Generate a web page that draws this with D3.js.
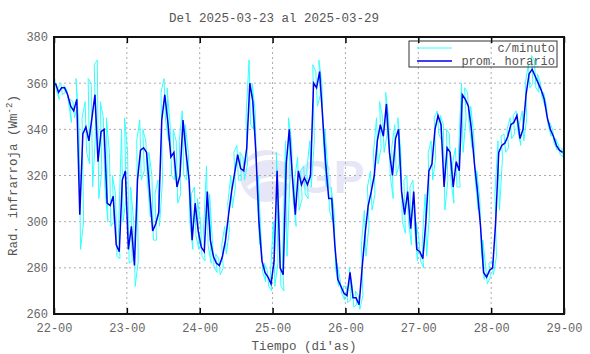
<!DOCTYPE html>
<html>
<head>
  <script src="https://d3js.org/d3.v7.min.js"></script>
  <style>
    body { margin: 0; background: #fff; }
    text { font-family: "Liberation Mono", "DejaVu Sans Mono", monospace; fill: #555; }
  </style>
</head>
<body>
  <div id="chart"></div>
  <script>
    const titulo = "Del 2025-03-23 al 2025-03-29";
    const diaInicio = 22, diaFin = 29;
    const etiquetasX = ["22-00", "23-00", "24-00", "25-00", "26-00", "27-00", "28-00", "29-00"];
    const ticksY = [260, 280, 300, 320, 340, 360, 380];

    // promedio horario (una valor por hora, 7 dias)
    const promHorario = [
      360, 356, 358, 358, 355, 350, 348, 353, 303, 338, 341, 335, 345, 355, 326, 339, 340, 308, 307, 311, 290, 287, 318, 322,
      288, 298, 281, 318, 331, 332, 330, 313, 296, 299, 304, 344, 355, 343, 328, 330, 315, 320, 344, 330, 318, 292, 308, 296,
      289, 287, 313, 292, 285, 282, 281, 285, 292, 303, 313, 321, 329, 323, 322, 332, 360, 352, 330, 300, 283, 278, 276, 273,
      283, 322, 280, 277, 325, 340, 320, 303, 322, 316, 319, 316, 320, 360, 358, 365, 345, 325, 310, 310, 290, 275, 272, 269,
      268, 278, 267, 267, 264, 280, 295, 307, 313, 320, 335, 342, 337, 351, 330, 320, 336, 340, 313, 303, 313, 297, 313, 288,
      287, 284, 300, 322, 325, 340, 346, 342, 315, 332, 330, 315, 326, 322, 355, 353, 350, 340, 325, 313, 298, 278, 276, 279,
      280, 300, 330, 333, 334, 337, 342, 343, 346, 336, 340, 355, 364, 366, 363, 360, 357, 353, 345, 340, 337, 333, 331, 330
    ];
    // extremos de los datos por minuto en cada hora
    const minutoMax = [
      362, 358, 360, 359, 357, 353, 352, 362, 340, 345, 352, 362, 360, 368, 370, 352, 345, 345, 330, 320, 312, 295, 340, 345,
      330, 315, 300, 335, 344, 340, 335, 330, 320, 312, 318, 356, 362, 358, 342, 340, 335, 335, 348, 342, 330, 312, 315, 310,
      300, 296, 324, 312, 290, 286, 284, 290, 298, 308, 320, 330, 333, 330, 328, 345, 370, 360, 348, 320, 292, 282, 279, 276,
      300, 330, 300, 282, 335, 345, 335, 318, 328, 322, 324, 322, 335, 368, 365, 370, 360, 340, 322, 315, 305, 282, 275, 272,
      272, 280, 272, 270, 268, 290, 305, 315, 322, 330, 345, 352, 345, 356, 345, 332, 342, 345, 330, 318, 320, 315, 318, 300,
      292, 290, 312, 330, 335, 345, 348, 346, 342, 340, 338, 325, 332, 330, 360, 358, 356, 350, 338, 322, 310, 292, 280, 282,
      283, 312, 335, 337, 338, 340, 345, 346, 348, 342, 348, 360, 368, 372, 370, 364, 360, 356, 350, 343, 340, 336, 333, 332
    ];
    const minutoMin = [
      357, 353, 355, 356, 352, 343, 345, 350, 288, 300, 330, 325, 315, 340, 310, 322, 315, 300, 298, 300, 285, 284, 300, 310,
      282, 283, 272, 283, 318, 322, 318, 302, 292, 292, 298, 318, 344, 335, 320, 318, 308, 312, 320, 318, 300, 288, 294, 288,
      285, 283, 290, 282, 280, 278, 277, 280, 286, 296, 306, 315, 318, 318, 318, 325, 342, 340, 320, 290, 278, 274, 272, 270,
      272, 282, 272, 270, 285, 320, 310, 298, 305, 310, 312, 310, 315, 335, 350, 355, 335, 315, 305, 300, 280, 272, 269, 266,
      265, 266, 263, 264, 262, 268, 285, 298, 305, 312, 325, 332, 330, 338, 320, 310, 320, 325, 300, 295, 300, 290, 298, 283,
      283, 280, 285, 305, 318, 328, 338, 335, 305, 318, 318, 308, 315, 315, 330, 345, 342, 332, 318, 305, 288, 275, 273, 276,
      277, 285, 305, 328, 330, 332, 336, 338, 340, 333, 335, 345, 358, 360, 358, 356, 354, 350, 342, 337, 334, 331, 329, 328
    ];

    const W = 590, H = 354;
    const m = { top: 37, right: 26, bottom: 40, left: 54 };

    const svg = d3.select("#chart").append("svg").attr("width", W).attr("height", H);

    const x = d3.scaleLinear().domain([diaInicio, diaFin]).range([m.left, W - m.right]);
    const y = d3.scaleLinear().domain([260, 380]).range([H - m.bottom, m.top]);
    const x0 = x.range()[0], x1 = x.range()[1], y0 = y.range()[0], y1 = y.range()[1];

    // marca de agua
    const logo = svg.append("g").attr("fill", "#e6e6f6");
    logo.append("circle").attr("cx", 266).attr("cy", 176).attr("r", 26);
    logo.append("path").attr("d", "M244,168 Q262,152 288,160").attr("stroke", "#fff").attr("stroke-width", 5).attr("fill", "none");
    logo.append("path").attr("d", "M248,188 Q266,174 290,182").attr("stroke", "#fff").attr("stroke-width", 4).attr("fill", "none");
    logo.append("text").attr("x", 298).attr("y", 193).text("GP")
      .style("font-family", "Liberation Sans, Arial, sans-serif").style("font-weight", "bold")
      .style("font-size", "46px").style("fill", "#e6e6f6");

    // rejilla
    const grid = svg.append("g").attr("stroke", "#aaa").attr("stroke-width", 1).attr("stroke-dasharray", "2,3");
    d3.range(diaInicio + 1, diaFin).forEach(d => {
      grid.append("line").attr("x1", x(d)).attr("x2", x(d)).attr("y1", y0).attr("y2", y1);
    });
    ticksY.slice(1, -1).forEach(v => {
      grid.append("line").attr("x1", x0).attr("x2", x1).attr("y1", y(v)).attr("y2", y(v));
    });

    // datos por minuto (extremos de cada hora)
    const puntosMin = [];
    promHorario.forEach((_, h) => {
      const a = [diaInicio + (h + 0.25) / 24, minutoMax[h]];
      const b = [diaInicio + (h + 0.75) / 24, minutoMin[h]];
      if (h % 2) puntosMin.push(b, a); else puntosMin.push(a, b);
    });
    const linea = d3.line().x(d => x(d[0])).y(d => y(d[1]));
    svg.append("path").datum(puntosMin)
      .attr("fill", "none").attr("stroke", "#33ffff").attr("stroke-width", 1).attr("d", linea);

    const puntosHora = promHorario.map((v, h) => [diaInicio + (h + 0.5) / 24, v]);
    svg.append("path").datum(puntosHora)
      .attr("fill", "none").attr("stroke", "#0000ee").attr("stroke-width", 1.5).attr("d", linea);

    // ejes con ticks hacia adentro
    const axB = svg.append("g").attr("transform", `translate(0,${y0})`)
      .call(d3.axisBottom(x).tickValues(d3.range(diaInicio, diaFin + 1)).tickSize(-6).tickPadding(9)
        .tickFormat((d, i) => etiquetasX[i]));
    const axT = svg.append("g").attr("transform", `translate(0,${y1})`)
      .call(d3.axisTop(x).tickValues(d3.range(diaInicio, diaFin + 1)).tickSize(-6).tickFormat(""));
    const axL = svg.append("g").attr("transform", `translate(${x0},0)`)
      .call(d3.axisLeft(y).tickValues(ticksY).tickSize(0).tickPadding(6));
    [axB, axT, axL].forEach(g => {
      g.select(".domain").remove();
      g.selectAll("line").attr("stroke", "#000").attr("stroke-width", 1.5);
      g.selectAll("text").style("font-size", "12px").style("fill", "#666");
    });

    svg.append("rect").attr("x", x0).attr("y", y1).attr("width", x1 - x0).attr("height", y0 - y1)
      .attr("fill", "none").attr("stroke", "#111").attr("stroke-width", 2);

    // titulos
    svg.append("text").attr("x", 274).attr("y", 22).attr("text-anchor", "middle")
      .style("font-size", "12.5px").text(titulo);
    svg.append("text").attr("x", 304).attr("y", 350).attr("text-anchor", "middle")
      .style("font-size", "12.5px").text("Tiempo (di'as)");
    const yt = svg.append("text").attr("transform", `translate(17,${(y0 + y1) / 2}) rotate(-90)`)
      .attr("text-anchor", "middle").style("font-size", "12.5px");
    yt.append("tspan").text("Rad. infrarroja (Wm");
    yt.append("tspan").attr("dy", -5).style("font-size", "9px").text("-2");
    yt.append("tspan").attr("dy", 5).text(")");

    // leyenda
    const series = ["c/minuto", "prom. horario"];
    const colores = ["#33ffff", "#0000ee"];
    const ley = svg.append("g");
    ley.append("rect").attr("x", 409).attr("y", 41).attr("width", 148).attr("height", 26)
      .attr("fill", "none").attr("stroke", "#333").attr("stroke-width", 1);
    series.forEach((s, i) => {
      const yy = 48 + i * 13;
      ley.append("line").attr("x1", 417).attr("x2", 452).attr("y1", yy).attr("y2", yy)
        .attr("stroke", colores[i]).attr("stroke-width", i ? 1.5 : 1);
      ley.append("text").attr("x", 555).attr("y", yy + 4).attr("text-anchor", "end")
        .style("font-size", "12px").text(s);
    });
  </script>
</body>
</html>
